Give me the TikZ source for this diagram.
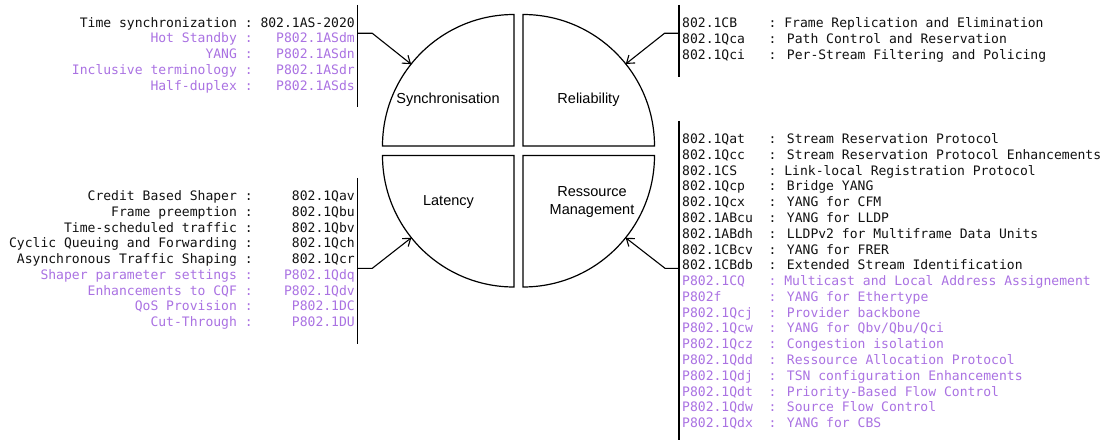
\documentclass[tikz,border=0pt]{standalone}
\usepackage{fontspec}
\setmainfont{Liberation Sans}
\newfontfamily\codefont{DejaVu Sans Mono}
\usetikzlibrary{arrows.meta}
\definecolor{ink}{HTML}{111111}
\definecolor{draft}{HTML}{AA72E2}

\begin{document}
\begin{tikzpicture}[x=1pt,y=1pt,
  quad/.style={draw=black,line width=1.2pt,fill=white,line join=miter},
  bar/.style={draw=black,line width=1.2pt},
  feed/.style={draw=black,line width=1.1pt,-{Straight Barb[length=7pt,width=10pt]}},
  area/.style={font=\fontsize{14.5}{18}\selectfont,align=center,inner sep=0pt,text=black},
  entry/.style={font=\codefont\fontsize{13.05}{15.8}\selectfont,inner sep=0pt},
]
\useasboundingbox (0,0) rectangle (1101,440);

% corners of the four quarter discs
\coordinate (tlc) at (514,294);
\coordinate (trc) at (523,294);
\coordinate (blc) at (514,284.5);
\coordinate (brc) at (523,284.5);

\draw[quad] (tlc) -- ++(-131.5,0) arc[start angle=180,end angle=90,radius=131.5] -- cycle;
\draw[quad] (trc) -- ++(0,131.5) arc[start angle=90,end angle=0,radius=131.5] -- cycle;
\draw[quad] (blc) -- ++(-131.5,0) arc[start angle=180,end angle=270,radius=131.5] -- cycle;
\draw[quad] (brc) -- ++(131.5,0) arc[start angle=0,end angle=-90,radius=131.5] -- cycle;

\node[area] (sync) at (448,340) {Synchronisation};
\node[area] (rel)  at (588.5,340) {Reliability};
\node[area] (lat)  at (448.5,237.5) {Latency};
\node[area] (res)  at (592,237.5) {Ressource\\Management};

% points on the rims where the arrows land
\path (tlc) ++(141.5:131.5) coordinate (tltip);
\path (trc) ++(38.6:131.5) coordinate (trtip);
\path (blc) ++(218.7:131.5) coordinate (bltip);
\path (brc) ++(321.3:131.5) coordinate (brtip);

% brackets beside the lists
\draw[bar] (357.7,435) coordinate (tltop) -- (357.7,333) coordinate (tlbot);
\draw[bar] (679,435) coordinate (trtop) -- (679,363) coordinate (trbot);
\draw[bar] (357.7,262) coordinate (bltop) -- (357.7,96.5) coordinate (blbot);
\draw[bar] (679,319) coordinate (brtop) -- (679,0) coordinate (brbot);

\coordinate (tlfoot) at (357.7,406.7);
\coordinate (trfoot) at (679,406.7);
\coordinate (blfoot) at (357.7,171.7);
\coordinate (brfoot) at (679,171.7);

\draw[feed] (tlfoot) -- ++(14.6,0) -- (tltip);
\draw[feed] (trfoot) -- ++(-14.5,0) -- (trtip);
\draw[feed] (blfoot) -- ++(14.6,0) -- (bltip);
\draw[feed] (brfoot) -- ++(-14,0) -- (brtip);

% time synchronization standards
\foreach [count=\i] \c/\t in {
  ink/{Time synchronization :~802.1AS-2020},
  draft/{Hot Standby :~~~P802.1ASdm},
  draft/{YANG :~~~P802.1ASdn},
  draft/{Inclusive terminology :~~~P802.1ASdr},
  draft/{Half-duplex :~~~P802.1ASds}}
  \node[entry,text=\c,anchor=base east] (syncstd\i) at (355,{412.8-(\i-1)*15.8}) {\t};

% reliability standards
\foreach [count=\i] \c/\t in {
  ink/{802.1CB~~~~: Frame Replication and Elimination},
  ink/{802.1Qca~~~: Path Control and Reservation},
  ink/{802.1Qci~~~: Per-Stream Filtering and Policing}}
  \node[entry,text=\c,anchor=base west] (relstd\i) at (682,{412.3-(\i-1)*15.8}) {\t};

% latency standards
\foreach [count=\i] \c/\t in {
  ink/{Credit Based Shaper :~~~~~802.1Qav},
  ink/{Frame preemption :~~~~~802.1Qbu},
  ink/{Time-scheduled traffic :~~~~~802.1Qbv},
  ink/{Cyclic Queuing and Forwarding :~~~~~802.1Qch},
  ink/{Asynchronous Traffic Shaping :~~~~~802.1Qcr},
  draft/{Shaper parameter settings :~~~~P802.1Qdq},
  draft/{Enhancements to CQF :~~~~P802.1Qdv},
  draft/{QoS Provision :~~~~~P802.1DC},
  draft/{Cut-Through :~~~~~P802.1DU}}
  \node[entry,text=\c,anchor=base east] (latstd\i) at (355,{239.5-(\i-1)*15.75}) {\t};

% resource management standards
\foreach [count=\i] \c/\t in {
  ink/{802.1Qat~~~: Stream Reservation Protocol},
  ink/{802.1Qcc~~~: Stream Reservation Protocol Enhancements},
  ink/{802.1CS~~~~: Link-local Registration Protocol},
  ink/{802.1Qcp~~~: Bridge YANG},
  ink/{802.1Qcx~~~: YANG for CFM},
  ink/{802.1ABcu~~: YANG for LLDP},
  ink/{802.1ABdh~~: LLDPv2 for Multiframe Data Units},
  ink/{802.1CBcv~~: YANG for FRER},
  ink/{802.1CBdb~~: Extended Stream Identification},
  draft/{P802.1CQ~~~: Multicast and Local Address Assignement},
  draft/{P802f~~~~~~: YANG for Ethertype},
  draft/{P802.1Qcj~~: Provider backbone},
  draft/{P802.1Qcw~~: YANG for Qbv/Qbu/Qci},
  draft/{P802.1Qcz~~: Congestion isolation},
  draft/{P802.1Qdd~~: Ressource Allocation Protocol},
  draft/{P802.1Qdj~~: TSN configuration Enhancements},
  draft/{P802.1Qdt~~: Priority-Based Flow Control},
  draft/{P802.1Qdw~~: Source Flow Control},
  draft/{P802.1Qdx~~: YANG for CBS}}
  \node[entry,text=\c,anchor=base west] (resstd\i) at (682,{296.5-(\i-1)*15.79}) {\t};
\end{tikzpicture}
\end{document}
